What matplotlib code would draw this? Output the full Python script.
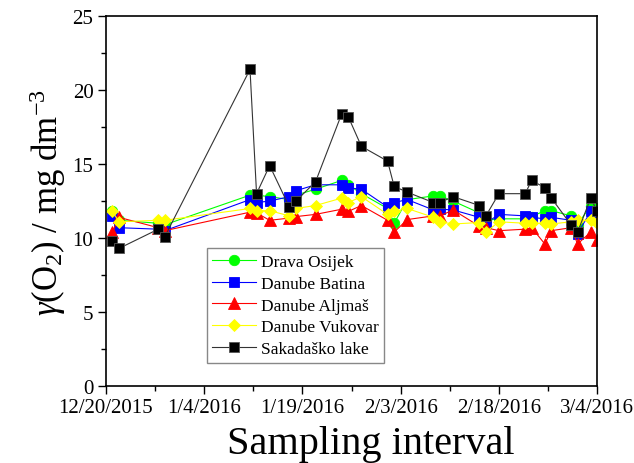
import matplotlib
matplotlib.use("Agg")
import matplotlib.pyplot as plt
import matplotlib.dates as mdates
from matplotlib.ticker import FuncFormatter
import pandas as pd
import datetime as dt

plt.rcParams['font.family'] = ['Liberation Serif', 'DejaVu Serif']
plt.rcParams['mathtext.fontset'] = 'custom'
plt.rcParams['mathtext.rm'] = 'Liberation Serif'
plt.rcParams['mathtext.it'] = 'Liberation Serif:italic'

dates = ["2015-12-21", "2015-12-22", "2015-12-28", "2015-12-29", "2016-01-11", "2016-01-12",
         "2016-01-14", "2016-01-17", "2016-01-18", "2016-01-21", "2016-01-25", "2016-01-26",
         "2016-01-28", "2016-02-01", "2016-02-02", "2016-02-04", "2016-02-08", "2016-02-09",
         "2016-02-11", "2016-02-15", "2016-02-16", "2016-02-18", "2016-02-22", "2016-02-23",
         "2016-02-25", "2016-02-26", "2016-02-29", "2016-03-01", "2016-03-03", "2016-03-04"]

drava_osijek = [11.8, 11.2, 11.0, 10.9, 12.9, 12.9, 12.8, 12.6, 12.9, 13.3, 13.9, 13.6, 13.0, 12.0, 11.0,
                12.6, 12.85, 12.85, 12.5, 11.7, 11.2, 11.3, 11.3, 11.45, 11.85, 11.85, 11.5, 10.9, 12.2, 12.0]
danube_batina = [11.5, 10.7, 10.6, 10.5, 12.6, 12.4, 12.5, 12.8, 13.2, 13.6, 13.6, 13.4, 13.3, 12.1, 12.4,
                 12.6, 11.9, 11.95, 11.9, 11.4, 11.0, 11.6, 11.5, 11.4, 11.3, 11.4, 11.2, 10.3, 11.8, 11.4]
danube_aljmas = [10.4, 11.4, 10.7, 10.5, 11.75, 11.7, 11.2, 11.35, 11.45, 11.6, 11.95, 11.8, 12.2, 11.2, 10.4,
                 11.25, 11.5, 11.5, 11.9, 10.8, 10.7, 10.5, 10.6, 10.7, 9.6, 10.5, 10.7, 9.6, 10.4, 9.9]
danube_vukovar = [11.8, 11.1, 11.2, 11.2, 12.0, 11.85, 11.85, 11.5, 12.0, 12.2, 12.7, 12.4, 12.8, 11.6, 11.8,
                  12.0, 11.4, 11.1, 10.95, 11.05, 10.4, 11.1, 11.0, 11.0, 11.0, 10.95, 11.1, 11.2, 11.2, 11.0]
sakadasko = [9.8, 9.3, 10.6, 10.1, 21.4, 13.0, 14.9, 12.1, 12.5, 13.8, 18.4, 18.2, 16.2, 15.2, 13.5,
             13.1, 12.4, 12.4, 12.8, 12.2, 11.5, 13.0, 13.0, 13.9, 13.4, 12.7, 10.9, 10.4, 12.7, 11.8]

labels = ["Drava Osijek", "Danube Batina", "Danube Aljmaš", "Danube Vukovar", "Sakadaško lake"]

x = pd.to_datetime(dates)

fig = plt.figure(figsize=(6.34, 4.64), dpi=100)
ax = fig.add_axes([0.167, 0.166, 0.775, 0.797])

styles = [
    (drava_osijek, '#00ff00', 'o', 7.5),
    (danube_batina, '#0000ff', 's', 7),
    (danube_aljmas, '#ff0000', '^', 8),
    (danube_vukovar, '#ffff00', 'D', 6.5),
    (sakadasko, '#000000', 's', 7),
]
for (vals, col, mk, ms), lab in zip(styles, labels):
    lc = '#333333' if col == '#000000' else col
    ax.plot(x, vals, color=lc, lw=0.8, marker=mk, markersize=ms,
            markerfacecolor=col, markeredgecolor=col if col != '#000000' else '#555555',
            markeredgewidth=0.6, label=lab)

start = dt.datetime(2015, 12, 20)
end = dt.datetime(2016, 3, 4)
ax.set_xlim(start, end)
ax.set_ylim(0, 25)

major = [start + dt.timedelta(days=15 * i) for i in range(6)]
minor = [start + dt.timedelta(days=7.5 + 15 * i) for i in range(5)]
ax.set_xticks(major)
ax.set_xticks(minor, minor=True)
ax.xaxis.set_major_formatter(FuncFormatter(
    lambda v, p: (lambda d: f"{d.month}/{d.day}/{d.year}")(mdates.num2date(v))))
ax.set_yticks([0, 5, 10, 15, 20, 25])
ax.set_yticks([2.5, 7.5, 12.5, 17.5, 22.5], minor=True)

ax.tick_params(axis='both', which='major', direction='out', length=6, width=1, labelsize=15,
               top=False, right=False, pad=3)
ax.tick_params(axis='both', which='minor', direction='out', length=3.5, width=1,
               top=False, right=False)
for s in ax.spines.values():
    s.set_linewidth(1.2)

ax.set_xlabel("Sampling interval", fontsize=29, labelpad=3)
ax.xaxis.set_label_coords(0.54, -0.105, transform=ax.transAxes)
ax.xaxis.label.set_verticalalignment('top')
ax.set_ylabel(r"$\it{\gamma}$(O$_2$) / mg dm$^{-3}$", fontsize=25, labelpad=3)

leg = ax.legend(loc='lower left', bbox_to_anchor=(0.188, 0.04), fontsize=12.5,
                frameon=True, fancybox=False, edgecolor='#888888', framealpha=1,
                handlelength=2.5, borderpad=0.3, labelspacing=0.33, handletextpad=0.3)
leg.get_frame().set_linewidth(1.0)

fig.savefig("out.png", dpi=100)
